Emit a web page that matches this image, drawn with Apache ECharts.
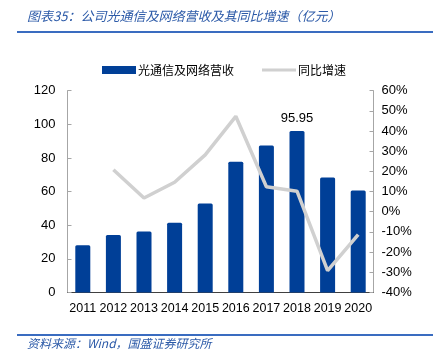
<!DOCTYPE html>
<html><head><meta charset="utf-8">
<script src="https://cdn.jsdelivr.net/npm/echarts@6/dist/echarts.min.js"></script>
<style>html,body{margin:0;padding:0;background:#fff}#c{width:440px;height:360px}</style>
</head><body><div id="c"></div>
<script>
const categories = ['2011','2012','2013','2014','2015','2016','2017','2018','2019','2020'];
const revenue = [28.1, 34.1, 36.3, 41.4, 52.9, 77.8, 87.4, 95.95, 68.3, 60.6];
const growth = [null, 20.8, 6.8, 14.6, 28.2, 47.3, 12.4, 10.2, -29.2, -11.3];
const leftTicks = [0, 120, 20];
const rightTicks = [-40, 60, 10];
const titleText = '图表35：公司光通信及网络营收及其同比增速（亿元）';
const sourceText = '资料来源：Wind，国盛证券研究所';
const seriesNames = ['光通信及网络营收', '同比增速'];
const labelIndex = 7;

const chart = echarts.init(document.getElementById('c'), null, {renderer: 'canvas'});
const axisFont = {fontFamily: 'Liberation Sans', fontSize: 13, color: '#000'};
chart.setOption({
  animation: false,
  graphic: [
    {type: 'text', left: 27, top: 10, style: {text: titleText, font: 'italic 13px "Noto Sans CJK SC"', fill: '#2c5aa8'}},
    {type: 'rect', shape: {x: 17, y: 31, width: 416, height: 2}, style: {fill: '#3a6cc0'}},
    {type: 'rect', shape: {x: 17, y: 334, width: 416, height: 2}, style: {fill: '#3a6cc0'}},
    {type: 'text', left: 27, top: 337, style: {text: sourceText, font: 'italic 12px "Noto Sans CJK SC"', fill: '#2c5aa8'}}
  ],
  legend: {
    top: 59, left: 97, itemGap: 28, itemWidth: 34, itemHeight: 8,
    textStyle: {fontFamily: 'Noto Sans CJK SC', fontSize: 12, color: '#000', padding: [0,0,0,-3]},
    data: [{name: seriesNames[0], icon: 'rect'}, {name: seriesNames[1], icon: 'path://M0,0H34V3H0Z'}]
  },
  grid: {left: 67.5, right: 66.5, top: 90.7, bottom: 67.6},
  xAxis: {
    type: 'category', data: categories,
    axisLine: {lineStyle: {color: '#404040', width: 1}},
    axisTick: {inside: true, length: 4, lineStyle: {color: '#404040'}},
    axisLabel: Object.assign({}, axisFont, {margin: 10, interval: 0, fontSize: 12.5})
  },
  yAxis: [
    {type: 'value', min: leftTicks[0], max: leftTicks[1], interval: leftTicks[2],
     axisLine: {show: true, lineStyle: {color: '#a6a6a6'}},
     axisTick: {show: true, inside: true, length: 4, lineStyle: {color: '#a6a6a6'}},
     splitLine: {show: false},
     axisLabel: Object.assign({margin: 12}, axisFont)},
    {type: 'value', min: rightTicks[0], max: rightTicks[1], interval: rightTicks[2],
     axisLine: {show: true, lineStyle: {color: '#a6a6a6'}},
     axisTick: {show: true, inside: true, length: 4, lineStyle: {color: '#a6a6a6'}},
     splitLine: {show: false},
     axisLabel: Object.assign({margin: 8, formatter: '{value}%'}, axisFont)}
  ],
  series: [
    {name: seriesNames[0], type: 'bar', yAxisIndex: 0, barWidth: 15,
     itemStyle: {color: '#003f97', borderRadius: [1.5,1.5,0,0]},
     data: revenue.map((v, i) => i === labelIndex ? {value: v, label: {show: true, position: 'top', distance: 6, fontFamily: 'Liberation Sans', fontSize: 13, color: '#000'}} : v)},
    {name: seriesNames[1], type: 'line', yAxisIndex: 1, data: growth,
     symbol: 'none', lineStyle: {color: '#d0d0d0', width: 3.5}, itemStyle: {color: '#d0d0d0'}}
  ]
});
</script></body></html>
